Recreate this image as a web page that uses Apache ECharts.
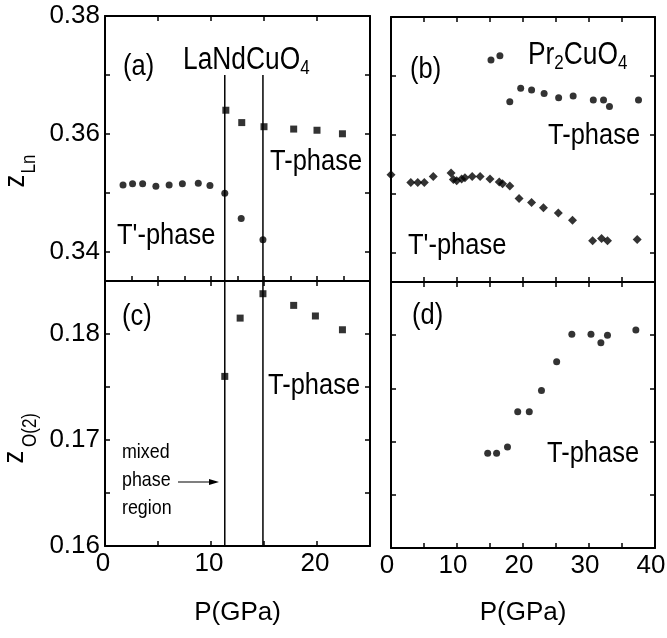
<!DOCTYPE html>
<html>
<head>
<meta charset="utf-8">
<script src="https://cdn.jsdelivr.net/npm/echarts@6/dist/echarts.min.js"></script>
<style>
  html, body { margin: 0; padding: 0; background: #fff; }
  #main { width: 667px; height: 638px; }
</style>
</head>
<body>
<div id="main"></div>
<script>
var FONT = '"Liberation Sans", Arial, sans-serif';
var NARROW = 0.85; // the scan uses a condensed Helvetica

// axis ranges
var aMin = 0.335, aMax = 0.38;
var cMin = 0.16, cMax = 0.185;
var leftPMax = 25, rightPMax = 40;

// tick and label values
var zLnTicks = [0.34, 0.35, 0.36, 0.37, 0.38];
var zLnLabels = [0.34, 0.36, 0.38];
var zOTicks = [0.16, 0.165, 0.17, 0.175, 0.18];
var zOLabels = [0.16, 0.17, 0.18];
var leftPTicksA = [0, 2.5, 5, 7.5, 10, 12.5, 15, 17.5, 20, 22.5, 25];
var leftPTicks = [0, 5, 10, 15, 20, 25];
var leftPLabels = [0, 10, 20];
var rightPTicks = [0, 5, 10, 15, 20, 25, 30, 35, 40];
var rightPLabels = [0, 10, 20, 30, 40];

// (a) LaNdCuO4, z_Ln
var aTprimeP = [1.7, 2.6, 3.55, 4.8, 6.05, 7.3, 8.8, 9.9];
var aTprimeZ = [0.3513, 0.3515, 0.3515, 0.3511, 0.3513, 0.3515, 0.3516, 0.3512];
var aMixedP = [11.3, 12.85, 14.9];
var aMixedZ = [0.3499, 0.3456, 0.3420];
var aTP = [11.4, 12.9, 15.0, 17.8, 20.0, 22.4];
var aTZ = [0.3640, 0.3619, 0.3612, 0.3608, 0.3606, 0.3600];

// (c) LaNdCuO4, z_O(2)
var cTP = [11.3, 12.75, 14.9, 17.8, 19.85, 22.4];
var cTZ = [0.1760, 0.1815, 0.1838, 0.1827, 0.1817, 0.1804];

// phase boundaries of the mixed region
var boundaryP = [11.3, 14.9];
var boundaryTopA = 0.37;

// (b) Pr2CuO4, z_Ln
var bTP = [15.15, 16.5, 18.0, 19.65, 21.3, 23.2, 25.4, 27.6, 30.65, 32.2, 33.1, 37.5];
var bTZ = [0.3727, 0.3734, 0.3656, 0.3679, 0.3676, 0.3670, 0.3663, 0.3666, 0.3659, 0.3659, 0.3648, 0.3659];
var bTprimeP = [0, 3.0, 4.05, 5.05, 6.4, 9.1, 9.45, 9.95, 10.7, 11.2, 12.3, 13.5, 15.0, 16.4, 16.9, 18.0, 19.4, 21.3, 23.1, 25.35, 27.5, 30.55, 31.9, 32.8, 37.3];
var bTprimeZ = [0.3532, 0.3519, 0.3519, 0.3519, 0.3529, 0.3535, 0.3524, 0.3522, 0.3525, 0.3527, 0.3529, 0.3529, 0.3525, 0.3520, 0.3517, 0.3513, 0.3492, 0.3485, 0.3476, 0.3467, 0.3455, 0.3420, 0.3424, 0.3420, 0.3422];

// (d) Pr2CuO4, z_O(2)
var dP = [14.65, 16.0, 17.65, 19.2, 20.95, 22.8, 25.1, 27.4, 30.3, 31.8, 32.8, 37.1];
var dZ = [0.1689, 0.1689, 0.1695, 0.1728, 0.1728, 0.1748, 0.1775, 0.1801, 0.1801, 0.1793, 0.1800, 0.1805];

function pts(xs, ys) {
    return xs.map(function (x, i) { return [x, ys[i]]; });
}

function xAx(grid, pos, max, ticks, labels, name, gap, shift) {
    return {
        type: 'value', gridIndex: grid, position: pos, min: 0, max: max,
        name: name || '', nameLocation: 'middle', nameGap: gap || 50,
        nameTextStyle: { color: '#000', fontSize: 26, fontFamily: FONT },
        axisLine: { show: true, onZero: false, lineStyle: { color: '#000', width: 2 } },
        axisTick: { show: true, inside: true, length: 5, customValues: ticks,
            lineStyle: { color: '#000', width: 1.5 } },
        axisLabel: { show: !!labels, customValues: labels, margin: 5, color: '#000',
            padding: [0, shift || 0, 0, 0],
            fontSize: 26, fontFamily: FONT, formatter: function (v) { return String(v); } },
        splitLine: { show: false }
    };
}

function yAx(grid, pos, min, max, ticks, labels) {
    return {
        type: 'value', gridIndex: grid, position: pos, min: min, max: max,
        axisLine: { show: true, onZero: false, lineStyle: { color: '#000', width: 2 } },
        axisTick: { show: true, inside: true, length: 5, customValues: ticks,
            lineStyle: { color: '#000', width: 1.5 } },
        axisLabel: { show: !!labels, customValues: labels, margin: 5, color: '#000',
            fontSize: 26, fontFamily: FONT, formatter: function (v) { return v.toFixed(2); } },
        splitLine: { show: false }
    };
}

function dots(name, xi, data, symbol, size) {
    return {
        name: name, type: 'scatter', xAxisIndex: xi, yAxisIndex: xi,
        symbol: symbol, symbolSize: size, data: data,
        itemStyle: { color: '#000' }, silent: true
    };
}

function boundary(xi, top, bottom) {
    return boundaryP.map(function (p) {
        return {
            type: 'line', xAxisIndex: xi, yAxisIndex: xi, symbol: 'none', silent: true,
            data: [[p, top], [p, bottom]],
            lineStyle: { color: '#000', width: 1.5 }
        };
    });
}

function label(text, x, y, size) {
    return {
        type: 'text', x: x, y: y, scaleX: NARROW, silent: true,
        style: { text: text, fill: '#000', fontSize: size || 30, fontFamily: FONT,
            align: 'left', verticalAlign: 'middle' }
    };
}

function vlabel(text, x, y, size) {
    return {
        type: 'text', x: x, y: y, rotation: Math.PI / 2, scaleX: NARROW, silent: true,
        style: { text: text, fill: '#000', fontSize: size, fontFamily: FONT,
            align: 'center', verticalAlign: 'middle' }
    };
}

var formulaRich = {
    n: { fontSize: 31, lineHeight: 31, fontFamily: FONT, color: '#000', verticalAlign: 'top' },
    s: { fontSize: 20, lineHeight: 20, fontFamily: FONT, color: '#000', verticalAlign: 'top', padding: [14, 0, 0, 0] }
};

function formula(text, x, y) {
    return {
        type: 'text', x: x, y: y, scaleX: NARROW, silent: true,
        style: { text: text, rich: formulaRich, align: 'left', verticalAlign: 'middle', fill: '#000' }
    };
}

var myChart = echarts.init(document.getElementById('main'));

var option = {
    backgroundColor: '#fff',
    animation: false,
    grid: [
        { left: 105, top: 16, width: 265, height: 265, outerBoundsMode: 'none' },
        { left: 391, top: 17, width: 264, height: 265, outerBoundsMode: 'none' },
        { left: 105, top: 281, width: 265, height: 265, outerBoundsMode: 'none' },
        { left: 391, top: 282, width: 264, height: 266, outerBoundsMode: 'none' }
    ],
    xAxis: [
        xAx(0, 'bottom', leftPMax, leftPTicksA, null),
        xAx(1, 'bottom', rightPMax, rightPTicks, null),
        xAx(2, 'bottom', leftPMax, leftPTicks, leftPLabels, 'P(GPa)', 54, 4),
        xAx(3, 'bottom', rightPMax, rightPTicks, rightPLabels, 'P(GPa)', 52, 8),
        xAx(0, 'top', leftPMax, leftPTicks, null),
        xAx(1, 'top', rightPMax, rightPTicks, null),
        xAx(2, 'top', leftPMax, leftPTicks, null),
        xAx(3, 'top', rightPMax, rightPTicks, null)
    ],
    yAxis: [
        yAx(0, 'left', aMin, aMax, zLnTicks, zLnLabels),
        yAx(1, 'left', aMin, aMax, zLnTicks, null),
        yAx(2, 'left', cMin, cMax, zOTicks, zOLabels),
        yAx(3, 'left', cMin, cMax, zOTicks, null),
        yAx(0, 'right', aMin, aMax, zLnTicks, null),
        yAx(1, 'right', aMin, aMax, zLnTicks, null),
        yAx(2, 'right', cMin, cMax, zOTicks, null),
        yAx(3, 'right', cMin, cMax, zOTicks, null)
    ],
    series: [
        dots('a T-prime', 0, pts(aTprimeP, aTprimeZ), 'circle', 7),
        dots('a mixed', 0, pts(aMixedP, aMixedZ), 'circle', 7),
        dots('a T', 0, pts(aTP, aTZ), 'rect', 7),
        dots('b T', 1, pts(bTP, bTZ), 'circle', 7),
        dots('b T-prime', 1, pts(bTprimeP, bTprimeZ), 'diamond', 9),
        dots('c T', 2, pts(cTP, cTZ), 'rect', 7),
        dots('d T', 3, pts(dP, dZ), 'circle', 7)
    ].concat(boundary(0, boundaryTopA, aMin), boundary(2, cMax, cMin)),
    graphic: [
        label('(a)', 123, 67),
        formula('{n|LaNdCuO}{s|4}', 183, 60),
        label('T-phase', 270, 162),
        label("T'-phase", 117, 236),
        label('(b)', 410, 70),
        formula('{n|Pr}{s|2}{n|CuO}{s|4}', 528, 55),
        label('T-phase', 548, 136),
        label("T'-phase", 408, 246),
        label('(c)', 122, 317),
        label('T-phase', 268, 386),
        label('mixed', 122, 452, 21),
        label('phase', 122, 480, 21),
        label('region', 122, 508, 21),
        { type: 'line', silent: true, shape: { x1: 178, y1: 482, x2: 212, y2: 482 },
          style: { stroke: '#000', lineWidth: 1.2 } },
        { type: 'polygon', silent: true, shape: { points: [[219, 482], [209, 479], [209, 485]] },
          style: { fill: '#000' } },
        label('(d)', 412, 316),
        label('T-phase', 547, 454),
        vlabel('z', 16, 181, 30),
        vlabel('Ln', 29, 164, 20),
        vlabel('z', 15, 457, 30),
        vlabel('O(2)', 30, 430, 20)
    ]
};

myChart.setOption(option);

window.addEventListener('resize', function () {
    myChart.resize();
});
</script>
</body>
</html>
